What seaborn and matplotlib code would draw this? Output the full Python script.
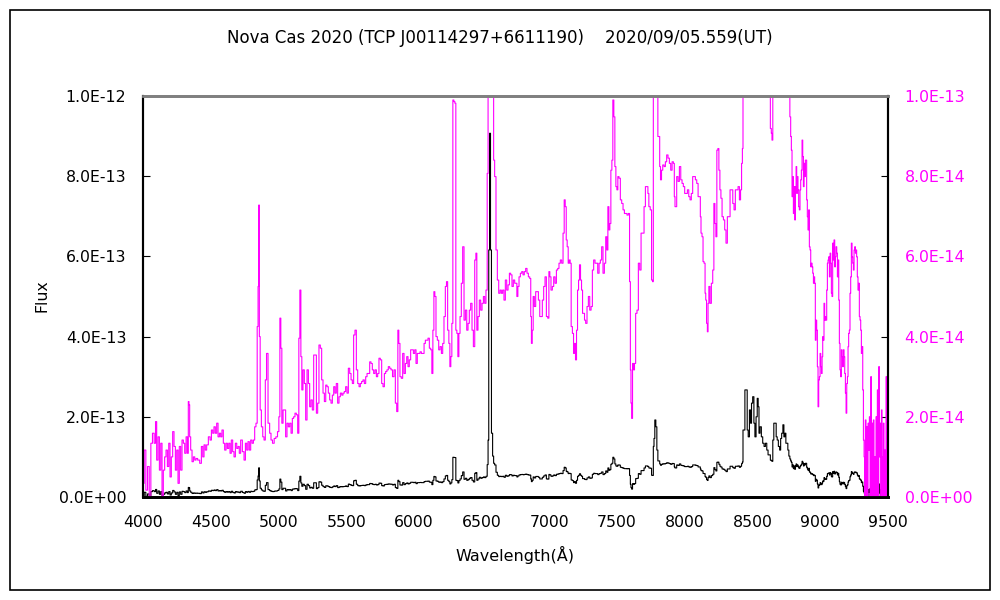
import numpy as np
import pandas as pd
import matplotlib
matplotlib.use('Agg')
import matplotlib.pyplot as plt
from matplotlib.patches import Rectangle
from matplotlib.ticker import FuncFormatter
import seaborn as sns

sns.set_style('white')
plt.rcParams['font.family'] = ['DejaVu Sans']
plt.rcParams['text.color'] = 'black'
plt.rcParams['xtick.color'] = 'black'
plt.rcParams['ytick.color'] = 'black'
plt.rcParams['axes.labelcolor'] = 'black'

# spectrum: wavelength (A) and flux in units of 1e-14
wavelength = [
    4000, 4003, 4015, 4027, 4040, 4052, 4064, 4076, 4089, 4096, 4106, 4116, 4126, 4136, 4145,
    4155, 4165, 4175, 4185, 4195, 4204, 4214, 4224, 4234, 4244, 4254, 4263, 4273, 4283, 4293,
    4303, 4313, 4323, 4332, 4337, 4342, 4347, 4357, 4367, 4377, 4387, 4396, 4411, 4426, 4436,
    4446, 4455, 4465, 4475, 4490, 4500, 4510, 4519, 4529, 4539, 4549, 4559, 4569, 4578, 4588,
    4598, 4608, 4618, 4628, 4638, 4647, 4657, 4667, 4677, 4687, 4697, 4706, 4716, 4726, 4741,
    4751, 4761, 4770, 4780, 4790, 4800, 4810, 4820, 4829, 4839, 4847, 4852, 4857, 4861, 4869,
    4879, 4889, 4898, 4908, 4916, 4930, 4940, 4950, 4962, 4975, 4987, 4999, 5007, 5014, 5021,
    5029, 5039, 5048, 5058, 5068, 5078, 5088, 5098, 5107, 5117, 5127, 5137, 5147, 5154, 5162,
    5169, 5176, 5186, 5196, 5206, 5216, 5226, 5235, 5245, 5255, 5265, 5275, 5285, 5294, 5304,
    5314, 5324, 5334, 5344, 5354, 5363, 5373, 5383, 5393, 5403, 5413, 5422, 5432, 5442, 5452,
    5462, 5472, 5481, 5491, 5501, 5511, 5521, 5531, 5541, 5550, 5560, 5570, 5580, 5590, 5600,
    5609, 5619, 5629, 5639, 5649, 5659, 5669, 5678, 5688, 5698, 5708, 5718, 5728, 5737, 5747,
    5757, 5767, 5777, 5787, 5796, 5806, 5816, 5826, 5836, 5848, 5858, 5868, 5878, 5885, 5892,
    5902, 5912, 5922, 5932, 5942, 5952, 5961, 5971, 5981, 5991, 6001, 6011, 6020, 6030, 6040,
    6050, 6060, 6070, 6080, 6089, 6099, 6109, 6119, 6129, 6136, 6144, 6151, 6158, 6168, 6178,
    6188, 6198, 6208, 6217, 6227, 6237, 6244, 6254, 6262, 6269, 6276, 6284, 6291, 6299, 6306,
    6313, 6321, 6328, 6336, 6345, 6355, 6365, 6375, 6385, 6395, 6404, 6414, 6424, 6434, 6444,
    6454, 6461, 6468, 6478, 6488, 6498, 6508, 6518, 6527, 6537, 6545, 6550, 6555, 6562, 6569,
    6576, 6586, 6591, 6601, 6611, 6621, 6631, 6641, 6650, 6660, 6670, 6680, 6690, 6700, 6710,
    6719, 6729, 6739, 6749, 6756, 6764, 6771, 6781, 6791, 6801, 6810, 6820, 6830, 6840, 6850,
    6860, 6865, 6870, 6877, 6884, 6894, 6904, 6914, 6924, 6934, 6943, 6953, 6963, 6973, 6983,
    6993, 7000, 7007, 7017, 7027, 7037, 7047, 7057, 7066, 7076, 7086, 7096, 7106, 7113, 7121,
    7128, 7135, 7143, 7150, 7157, 7165, 7175, 7182, 7189, 7197, 7204, 7212, 7219, 7226, 7234,
    7241, 7249, 7256, 7263, 7273, 7283, 7293, 7303, 7313, 7322, 7332, 7342, 7352, 7362, 7372,
    7381, 7391, 7401, 7411, 7421, 7428, 7436, 7443, 7450, 7458, 7465, 7472, 7480, 7487, 7495,
    7502, 7509, 7519, 7529, 7539, 7549, 7559, 7568, 7578, 7588, 7596, 7600, 7605, 7610, 7618,
    7625, 7632, 7642, 7652, 7662, 7672, 7682, 7694, 7704, 7714, 7724, 7731, 7738, 7751, 7758,
    7765, 7770, 7775, 7782, 7790, 7797, 7805, 7812, 7817, 7824, 7832, 7842, 7852, 7861, 7871,
    7881, 7891, 7901, 7911, 7920, 7925, 7930, 7935, 7945, 7955, 7965, 7975, 7984, 7994, 8004,
    8014, 8024, 8034, 8043, 8053, 8063, 8073, 8083, 8093, 8103, 8112, 8117, 8122, 8132, 8137,
    8147, 8152, 8157, 8164, 8169, 8174, 8181, 8191, 8201, 8211, 8218, 8226, 8233, 8240, 8248,
    8255, 8263, 8270, 8280, 8290, 8299, 8309, 8319, 8329, 8339, 8349, 8359, 8368, 8378, 8388,
    8398, 8408, 8415, 8423, 8427, 8432, 8440, 8447, 8457, 8464, 8472, 8482, 8489, 8496, 8506,
    8514, 8521, 8531, 8538, 8545, 8550, 8560, 8570, 8580, 8590, 8600, 8610, 8619, 8627, 8636,
    8641, 8646, 8653, 8661, 8671, 8678, 8686, 8695, 8705, 8710, 8720, 8728, 8735, 8742, 8750,
    8757, 8764, 8772, 8779, 8784, 8789, 8794, 8799, 8804, 8809, 8814, 8819, 8824, 8828, 8833,
    8838, 8843, 8848, 8853, 8858, 8863, 8868, 8873, 8878, 8883, 8888, 8892, 8897, 8902, 8907,
    8912, 8917, 8922, 8927, 8932, 8937, 8942, 8947, 8952, 8956, 8961, 8966, 8971, 8976, 8981,
    8986, 8991, 8996, 9001, 9006, 9011, 9016, 9020, 9025, 9030, 9035, 9040, 9045, 9050, 9055,
    9060, 9065, 9070, 9075, 9080, 9084, 9089, 9094, 9099, 9104, 9109, 9114, 9119, 9124, 9129,
    9134, 9139, 9143, 9148, 9153, 9158, 9163, 9168, 9173, 9178, 9183, 9188, 9193, 9198, 9203,
    9207, 9212, 9217, 9222, 9227, 9232, 9237, 9242, 9247, 9252, 9257, 9262, 9266, 9271, 9276,
    9281, 9286, 9291, 9296, 9301, 9306, 9311, 9316, 9321, 9326, 9330, 9335, 9340, 9345, 9350,
    9355, 9360, 9365, 9370, 9375, 9380, 9385, 9390, 9394, 9399, 9404, 9409, 9414, 9419, 9424,
    9429, 9434, 9439, 9444, 9449, 9454, 9458, 9463, 9468, 9473, 9478, 9483, 9488, 9493, 9498,
    9500,
]
flux = [
    1.96, 0.34, 1.17, 0.17, 0.76, 0.0, 1.34, 1.59, 1.34, 1.88, 0.92, 1.50, 0.67, 1.34, 0.0,
    0.67, 1.00, 1.17, 0.76, 1.34, 0.50, 1.00, 1.63, 1.26, 0.67, 1.17, 0.34, 1.26, 0.67, 1.42,
    1.34, 1.09, 1.50, 1.09, 2.38, 2.30, 1.50, 1.17, 0.88, 1.00, 0.92, 0.96, 0.92, 0.84, 1.26,
    1.00, 1.30, 1.17, 1.30, 1.50, 1.42, 1.67, 1.59, 1.75, 1.59, 1.84, 1.50, 1.59, 1.50, 1.67,
    1.34, 1.17, 1.34, 1.21, 1.34, 1.09, 1.42, 1.13, 1.00, 1.34, 1.21, 1.26, 1.09, 1.42, 1.13,
    0.92, 1.34, 1.17, 1.38, 1.17, 1.42, 1.34, 1.42, 1.75, 1.84, 4.25, 5.25, 7.28, 4.00, 2.17,
    1.75, 1.50, 1.42, 2.92, 3.58, 1.84, 1.59, 1.42, 1.34, 1.46, 1.50, 1.63, 2.00, 4.46, 3.71,
    1.84, 2.17, 2.17, 1.50, 1.84, 1.75, 1.84, 1.59, 1.96, 2.00, 2.09, 2.05, 1.59, 3.96, 5.16,
    3.50, 2.67, 3.17, 2.83, 1.92, 3.17, 2.83, 2.25, 2.42, 2.17, 3.54, 3.54, 2.09, 2.34, 3.79,
    3.71, 2.92, 2.59, 2.38, 2.79, 2.75, 2.59, 2.42, 2.34, 2.54, 2.75, 2.59, 2.83, 2.34, 2.50,
    2.59, 2.54, 2.59, 2.63, 2.75, 2.59, 3.21, 3.08, 2.92, 2.83, 4.04, 4.16, 3.17, 2.83, 2.75,
    2.83, 2.88, 2.92, 2.83, 3.00, 3.08, 3.08, 3.37, 3.33, 3.17, 3.08, 3.17, 3.00, 3.08, 3.46,
    3.42, 2.83, 2.75, 3.08, 3.13, 3.17, 3.25, 3.21, 3.17, 3.00, 3.17, 2.34, 2.13, 4.16, 3.83,
    3.00, 2.96, 3.58, 3.08, 3.33, 3.50, 3.25, 3.42, 3.67, 3.67, 3.58, 3.67, 3.33, 3.58, 3.58,
    3.62, 3.58, 3.58, 3.83, 3.91, 3.91, 3.96, 3.71, 3.67, 3.08, 4.16, 5.12, 5.00, 4.00, 3.91,
    3.67, 3.75, 3.58, 3.83, 4.50, 5.25, 5.37, 4.16, 3.83, 3.25, 3.50, 4.33, 9.90, 9.86, 9.82,
    4.16, 4.08, 3.50, 4.08, 4.50, 5.33, 6.24, 4.41, 4.66, 4.16, 4.33, 4.66, 4.83, 4.16, 3.75,
    5.91, 6.08, 4.16, 4.50, 4.91, 4.66, 4.83, 5.00, 4.83, 5.16, 8.07, 14.2, 61.6, 90.7, 61.6,
    15.9, 10.2, 8.40, 7.99, 6.16, 5.41, 5.08, 5.16, 5.08, 5.16, 4.91, 5.41, 5.16, 5.29, 5.58,
    5.54, 5.25, 5.41, 5.33, 5.33, 5.00, 5.25, 5.49, 5.58, 5.62, 5.54, 5.62, 5.70, 5.58, 5.49,
    5.45, 4.50, 3.83, 4.16, 5.00, 4.75, 5.12, 5.12, 4.91, 4.50, 4.50, 4.91, 5.25, 5.49, 4.50,
    4.46, 5.62, 5.49, 5.16, 5.25, 5.49, 5.33, 5.66, 5.70, 5.83, 5.91, 5.83, 6.58, 7.41, 7.24,
    6.41, 6.24, 5.83, 5.91, 5.83, 4.25, 4.08, 3.58, 3.83, 3.42, 4.16, 5.16, 5.41, 5.79, 5.41,
    5.16, 4.58, 4.58, 4.41, 4.33, 4.75, 5.00, 4.66, 4.75, 5.66, 5.91, 5.83, 5.83, 5.58, 5.83,
    5.91, 6.24, 5.58, 5.83, 6.49, 6.16, 7.24, 6.66, 6.82, 8.15, 8.40, 9.90, 9.48, 8.24, 7.74,
    7.66, 7.99, 7.95, 7.41, 7.32, 7.16, 7.07, 7.07, 7.03, 7.07, 5.37, 3.17, 2.34, 1.96, 3.33,
    3.17, 3.33, 4.58, 4.66, 5.83, 5.66, 6.58, 6.58, 7.24, 7.74, 7.74, 7.57, 7.24, 7.16, 5.41,
    5.37, 12.6, 14.6, 19.2, 17.5, 11.7, 8.99, 8.99, 8.24, 7.91, 8.15, 8.28, 8.24, 8.36, 8.53,
    8.45, 8.32, 8.15, 8.36, 8.32, 7.49, 7.24, 7.24, 7.99, 7.87, 8.24, 7.91, 7.82, 7.74, 7.57,
    7.57, 7.66, 7.49, 7.41, 7.57, 7.99, 7.99, 7.91, 7.82, 7.49, 7.49, 6.99, 6.58, 6.49, 5.87,
    5.83, 5.08, 4.91, 4.33, 4.12, 4.83, 5.25, 4.83, 5.33, 5.66, 7.32, 6.82, 6.49, 8.65, 8.69,
    8.15, 7.66, 7.45, 6.99, 6.91, 6.66, 6.33, 6.99, 6.99, 7.66, 7.66, 7.32, 7.16, 7.66, 7.66,
    7.74, 7.41, 7.66, 8.32, 8.69, 16.7, 16.7, 26.7, 26.7, 16.7, 15.0, 21.7, 18.4, 23.4, 25.0,
    18.4, 15.0, 20.0, 24.6, 22.5, 15.9, 17.5, 15.0, 13.4, 12.6, 13.4, 11.7, 10.5, 10.5, 9.19,
    9.07, 8.90, 14.2, 18.4, 18.4, 15.0, 14.2, 12.6, 11.7, 14.6, 15.9, 18.0, 15.0, 15.9, 13.4,
    13.4, 11.7, 10.2, 9.48, 8.99, 8.65, 7.49, 7.99, 7.07, 7.74, 6.91, 7.74, 8.24, 7.57, 7.99,
    7.66, 7.24, 7.16, 7.66, 7.91, 8.15, 8.90, 8.49, 7.74, 8.32, 7.99, 8.40, 8.40, 7.41, 6.99,
    6.66, 7.16, 6.24, 6.16, 5.74, 5.83, 5.74, 5.58, 5.33, 5.49, 5.33, 3.91, 4.41, 4.16, 3.25,
    2.25, 2.92, 3.00, 3.58, 3.25, 3.08, 3.50, 4.00, 3.91, 4.83, 4.41, 4.50, 4.41, 5.16, 5.83,
    5.91, 5.99, 5.49, 6.08, 5.83, 5.08, 5.00, 6.33, 5.91, 6.41, 5.74, 5.99, 6.24, 6.08, 5.49,
    5.91, 4.91, 3.83, 3.17, 3.00, 3.67, 3.50, 3.25, 3.67, 3.50, 3.08, 2.59, 2.09, 2.83, 3.00,
    3.75, 4.08, 4.16, 5.08, 5.49, 6.33, 5.99, 5.83, 5.66, 6.16, 6.24, 6.08, 6.16, 5.99, 5.49,
    5.16, 5.33, 4.50, 4.41, 4.16, 3.58, 3.75, 2.67, 1.42, 1.00, 0.0, 1.92, 0.0, 1.75, 0.0,
    1.84, 1.17, 2.00, 0.0, 3.00, 0.0, 1.84, 0.0, 1.92, 0.0, 1.00, 0.0, 2.00, 0.0, 2.67,
    0.0, 3.25, 1.00, 1.84, 0.0, 2.17, 1.00, 0.0, 1.84, 0.0, 1.17, 0.0, 3.00, 0.0, 2.00,
    1.00,
]
flux_unit = 1e-14

left_ticks = [0, 2e-13, 4e-13, 6e-13, 8e-13, 1e-12]
right_ticks = [0, 2e-14, 4e-14, 6e-14, 8e-14, 1e-13]
x_ticks = [4000, 4500, 5000, 5500, 6000, 6500, 7000, 7500, 8000, 8500, 9000, 9500]

title = 'Nova Cas 2020 (TCP J00114297+6611190)    2020/09/05.559(UT)'

df = pd.DataFrame({'wl': wavelength, 'flux': np.array(flux) * flux_unit})

fig = plt.figure(figsize=(10, 6), dpi=100)
ax = fig.add_axes([0.143, 0.1717, 0.745, 0.6683])
ax2 = ax.twinx()

sns.lineplot(data=df, x='wl', y='flux', ax=ax, color='black', lw=0.8,
             drawstyle='steps-mid', estimator=None, sort=False)
sns.lineplot(data=df, x='wl', y='flux', ax=ax2, color='#FF00FF', lw=0.8,
             drawstyle='steps-mid', estimator=None, sort=False)

sci = FuncFormatter(lambda v, _: '{:.1E}'.format(v))
ax.set_xlim(4000, 9500)
ax.set_ylim(0, 1e-12)
ax2.set_ylim(0, 1e-13)
ax.set_xticks(x_ticks)
ax.set_yticks(left_ticks)
ax2.set_yticks(right_ticks)
ax.yaxis.set_major_formatter(sci)
ax2.yaxis.set_major_formatter(sci)
ax.set_xlabel('')
ax.set_ylabel('')
ax2.set_ylabel('')

ax.tick_params(axis='x', direction='in', length=5, pad=13, labelsize=11.3, top=False)
ax.tick_params(axis='y', direction='in', length=5, pad=12, labelsize=11.3)
ax2.tick_params(axis='y', direction='in', length=5, pad=12, labelsize=11.3,
                labelcolor='#FF00FF', color='black')

for a in (ax, ax2):
    a.spines['top'].set_color('#808080')
    a.spines['top'].set_linewidth(2)
    a.spines['left'].set_color('black')
    a.spines['bottom'].set_color('black')
    a.spines['right'].set_color('black')
    a.spines['left'].set_linewidth(1.5)
    a.spines['bottom'].set_linewidth(2)
    a.spines['right'].set_linewidth(1.5)

fig.text(0.5, 0.937, title, ha='center', va='center', fontsize=12)
fig.text(0.042, 0.507, 'Flux', ha='center', va='center', rotation=90, fontsize=11.3)
fig.text(0.515, 0.075, 'Wavelength(Å)', ha='center', va='center', fontsize=11.5)

fig.patches.append(Rectangle((0.01, 0.0167), 0.98, 0.9667, transform=fig.transFigure,
                             fill=False, ec='black', lw=1.2))

fig.savefig('out.png', dpi=100)
